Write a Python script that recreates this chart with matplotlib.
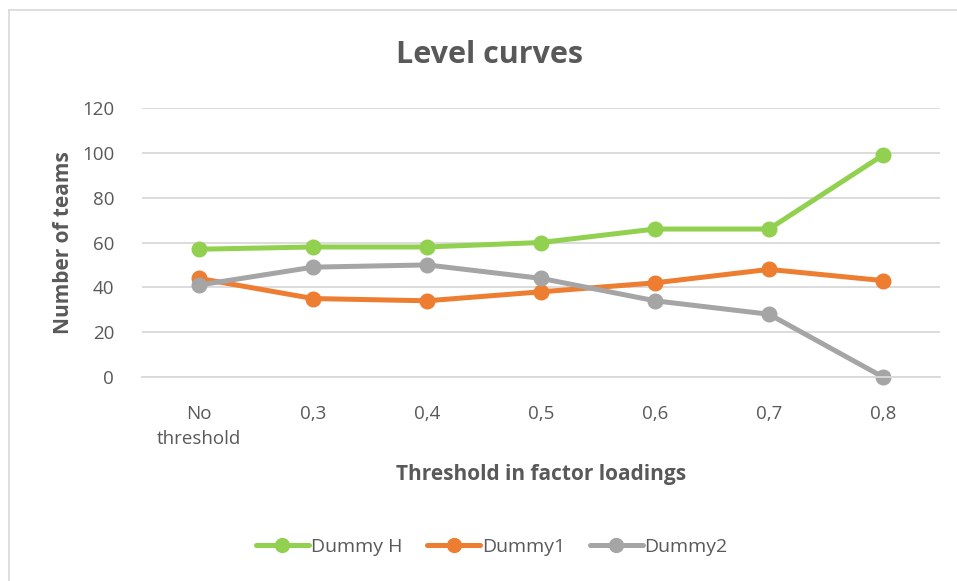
import matplotlib.pyplot as plt
from matplotlib.lines import Line2D

categories = ['No\nthreshold', '0,3', '0,4', '0,5', '0,6', '0,7', '0,8']
dummy_h = [57, 58, 58, 60, 66, 66, 99]
dummy_1 = [44, 35, 34, 38, 42, 48, 43]
dummy_2 = [41, 49, 50, 44, 34, 28, 0]
yticks = [0, 20, 40, 60, 80, 100, 120]

plt.rcParams['font.family'] = ['Open Sans', 'DejaVu Sans']
txt = '#595959'

W, H = 957, 581
fig = plt.figure(figsize=(W / 100, H / 100), dpi=100)
ax = fig.add_axes([142 / W, 1 - 377 / H, (940 - 142) / W, (377 - 108) / H])

x = list(range(len(categories)))
series = [('Dummy H', dummy_h, '#92D050'),
          ('Dummy1', dummy_1, '#ED7D31'),
          ('Dummy2', dummy_2, '#A5A5A5')]
for name, vals, col in series:
    ax.plot(x, vals, color=col, lw=3.6, marker='o', ms=10.5, label=name,
            solid_capstyle='round', clip_on=False)

ax.set_xlim(-0.5, len(categories) - 0.5)
ax.set_ylim(0, 120)
ax.set_yticks(yticks)
ax.set_xticks(x)
ax.set_xticklabels(categories, color=txt, fontsize=13.5, linespacing=1.5)
ax.set_yticklabels([str(v) for v in yticks], color=txt, fontsize=13.5)
ax.tick_params(length=0, pad=20, axis='x')
ax.tick_params(length=0, pad=20, axis='y')
ax.grid(axis='y', color='#D9D9D9', lw=1.3)
ax.set_axisbelow(True)
for s in ax.spines.values():
    s.set_visible(False)
ax.spines['bottom'].set_visible(True)
ax.spines['bottom'].set_color('#D9D9D9')
ax.spines['bottom'].set_linewidth(1.3)

ax.set_xlabel('Threshold in factor loadings', fontsize=15, fontweight='bold',
              color=txt, labelpad=12)
ax.set_ylabel('Number of teams', fontsize=15, fontweight='bold',
              color=txt, labelpad=6)
fig.text(490 / W, 1 - 55 / H, 'Level curves', ha='center', va='center',
         fontsize=22, fontweight='bold', color=txt)

fig.legend(loc='center', bbox_to_anchor=(492 / W, 1 - 547 / H), ncol=3,
           frameon=False, fontsize=14, labelcolor=txt, handlelength=2.7,
           handletextpad=0.1, columnspacing=1.3, markerscale=0.95)

# chart border (only left and top edges fall inside the image)
fig.add_artist(Line2D([9 / W, 9 / W], [0, 1 - 10 / H], transform=fig.transFigure,
                      color='#D9D9D9', lw=1.2))
fig.add_artist(Line2D([9 / W, 1], [1 - 10 / H, 1 - 10 / H], transform=fig.transFigure,
                      color='#D9D9D9', lw=1.2))

fig.savefig('out.png', dpi=100)
